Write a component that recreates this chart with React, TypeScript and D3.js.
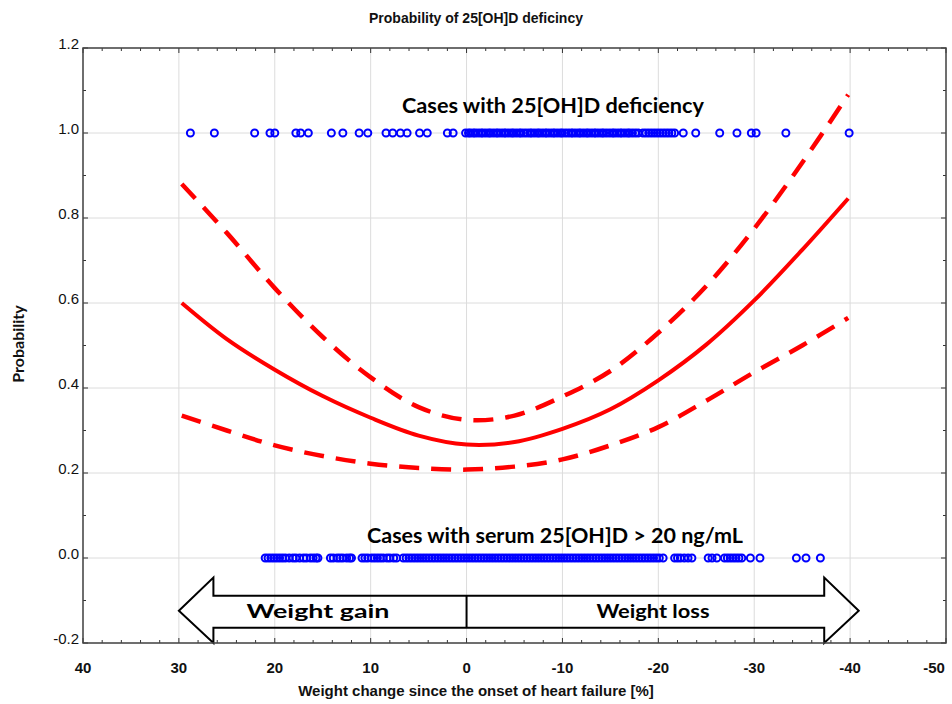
import * as d3 from 'd3';

// curve x positions (weight change, %)
const curveX = [29.7, 25, 20, 15, 10, 5, 0, -5, -10, -15, -20, -25, -30, -35, -39.8];
const probFit = [0.6, 0.515, 0.443, 0.381, 0.33, 0.288, 0.267, 0.273, 0.304, 0.35, 0.418, 0.502, 0.606, 0.725, 0.846];
const probUpper = [0.88, 0.765, 0.635, 0.52, 0.425, 0.355, 0.325, 0.335, 0.38, 0.44, 0.53, 0.64, 0.775, 0.93, 1.09];
const probLower = [0.335, 0.3, 0.265, 0.24, 0.222, 0.212, 0.208, 0.215, 0.232, 0.265, 0.308, 0.37, 0.437, 0.5, 0.565];

// observed cases with deficiency (y = 1)
const deficientCases = [
  28.8, 26.3, 22.1, 20.5, 20.0, 17.8, 17.3, 16.5, 14.1, 12.9, 11.2, 10.3, 8.4, 7.7, 6.9, 6.2,
  4.9, 4.1, 2.0, 1.4,
  0.1, -0.2, -0.4, -0.7, -0.9, -1.2, -1.5, -1.7, -2.0, -2.3, -2.5, -2.8, -3.1, -3.3, -3.6, -3.9,
  -4.1, -4.4, -4.7, -4.9, -5.2, -5.5, -5.7, -6.0, -6.3, -6.6, -6.8, -7.1, -7.4, -7.6, -7.9, -8.2,
  -8.4, -8.7, -9.0, -9.2, -9.5, -9.8, -10.0, -10.3, -10.6, -10.9, -11.1, -11.4, -11.7, -11.9,
  -12.2, -12.5, -12.7, -13.0, -13.3, -13.5, -13.8, -14.1, -14.3, -14.6, -14.9, -15.2, -15.4,
  -15.7, -16.0, -16.2, -16.5, -16.8, -17.0, -17.3, -17.6, -17.9,
  -18.4, -18.7, -19.0, -19.3, -19.6, -19.9, -20.2, -20.5, -20.8, -21.1, -21.4, -21.7,
  -22.6, -23.9, -26.4, -28.2, -29.7, -30.2, -33.3, -39.9,
];

// observed cases with serum 25[OH]D > 20 ng/mL (y = 0)
const normalCases = [
  21.0, 20.7, 20.4, 20.1, 19.8, 19.5, 19.2, 18.9, 18.5, 18.1, 17.8, 17.4, 17.0, 16.7, 16.3, 16.0,
  15.7, 15.5,
  14.2, 13.9, 13.5, 13.2, 12.9, 12.5, 12.2, 12.0,
  10.9, 10.6, 10.3, 9.9, 9.6, 9.3, 9.0, 8.7, 8.3, 8.0, 7.6, 7.3,
  6.6, 6.3, 6.0, 5.7, 5.4, 5.1, 4.8, 4.5, 4.2, 3.9, 3.6, 3.3, 3.0, 2.7, 2.4, 2.1, 1.8, 1.5, 1.2,
  0.9, 0.6, 0.3, 0.0, -0.3, -0.6, -0.9, -1.2, -1.5, -1.8, -2.1, -2.4, -2.7, -3.0, -3.3, -3.6,
  -3.9, -4.2, -4.5, -4.8, -5.1, -5.4, -5.7, -6.0, -6.3, -6.6, -6.9, -7.2, -7.5, -7.8, -8.1,
  -8.4, -8.7, -9.0, -9.3, -9.6, -9.9, -10.2, -10.5, -10.8, -11.1, -11.4, -11.7, -12.0, -12.3,
  -12.6, -12.9, -13.2, -13.5, -13.8, -14.1, -14.4, -14.7, -15.0, -15.3, -15.6, -15.9, -16.2,
  -16.5, -16.8, -17.1, -17.4, -17.7, -18.0, -18.3, -18.6, -18.9, -19.2, -19.5, -19.8, -20.1,
  -20.5,
  -21.7, -22.0, -22.3, -22.7, -23.1, -23.5,
  -25.2, -25.6, -26.1,
  -26.9, -27.2, -27.5, -27.8, -28.1, -28.4, -28.7, -29.6, -30.6,
  -34.4, -35.4, -36.9,
];

const xTicks = [40, 30, 20, 10, 0, -10, -20, -30, -40, -50];
const yTicks = [-0.2, 0, 0.2, 0.4, 0.6, 0.8, 1.0, 1.2];

const narrow = "'Liberation Sans Narrow', 'Arial Narrow', 'Liberation Sans', sans-serif";
const calibriLike = "Lato, 'Open Sans', sans-serif";

export default function App() {
  const width = 952;
  const height = 704;
  const left = 83, right = 946, top = 48, bottom = 643;

  const x = d3.scaleLinear().domain([40, -50]).range([left, right]);
  const y = d3.scaleLinear().domain([-0.2, 1.2]).range([bottom, top]);

  const minorX = d3.range(40, -50.1, -2).filter(v => v % 10 !== 0);
  const minorY = d3.range(-0.1, 1.2, 0.2);

  const line = d3.line<[number, number]>()
    .x(d => x(d[0]))
    .y(d => y(d[1]))
    .curve(d3.curveCatmullRom);

  const fitPts = curveX.map((v, i) => [v, probFit[i]] as [number, number]);
  const upPts = curveX.map((v, i) => [v, probUpper[i]] as [number, number]);
  const loPts = curveX.map((v, i) => [v, probLower[i]] as [number, number]);

  // double arrow (data units)
  const tipL = 30.0, backL = 26.4, backR = -37.3, tipR = -40.9;
  const headTop = -0.046, shaftTop = -0.089, mid = -0.124, shaftBot = -0.164, headBot = -0.2;
  const arrow: [number, number][] = [
    [tipL, mid], [backL, headTop], [backL, shaftTop], [backR, shaftTop], [backR, headTop],
    [tipR, mid], [backR, headBot], [backR, shaftBot], [backL, shaftBot], [backL, headBot],
  ];
  const arrowPath = 'M' + arrow.map(p => `${x(p[0])},${y(p[1])}`).join('L') + 'Z';

  return (
    <svg width={width} height={height} style={{ position: 'absolute', left: 0, top: 0, background: '#fff' }}>
      <rect width={width} height={height} fill="#fff" />
      <text x={476} y={23} textAnchor="middle" fontFamily={narrow} fontWeight="bold" fontSize={14} fill="#111">
        Probability of 25[OH]D deficincy
      </text>

      {/* grid */}
      {xTicks.map(t => (
        <line key={'gx' + t} x1={x(t)} x2={x(t)} y1={top} y2={bottom} stroke="#dcdcdc" strokeWidth={1} />
      ))}
      {yTicks.map(t => (
        <line key={'gy' + t} x1={left} x2={right} y1={y(t)} y2={y(t)} stroke="#dcdcdc" strokeWidth={1} />
      ))}

      {/* ticks, inward on all four sides */}
      {xTicks.map(t => (
        <g key={'tx' + t} stroke="#333" strokeWidth={1}>
          <line x1={x(t)} x2={x(t)} y1={top} y2={top + 5} />
          <line x1={x(t)} x2={x(t)} y1={bottom} y2={bottom - 5} />
        </g>
      ))}
      {minorX.map(t => (
        <g key={'mx' + t} stroke="#333" strokeWidth={1}>
          <line x1={x(t)} x2={x(t)} y1={top} y2={top + 3} />
          <line x1={x(t)} x2={x(t)} y1={bottom} y2={bottom - 3} />
        </g>
      ))}
      {yTicks.map(t => (
        <g key={'ty' + t} stroke="#333" strokeWidth={1}>
          <line x1={left} x2={left + 5} y1={y(t)} y2={y(t)} />
          <line x1={right} x2={right - 5} y1={y(t)} y2={y(t)} />
        </g>
      ))}
      {minorY.map(t => (
        <g key={'my' + t} stroke="#333" strokeWidth={1}>
          <line x1={left} x2={left + 3} y1={y(t)} y2={y(t)} />
          <line x1={right} x2={right - 3} y1={y(t)} y2={y(t)} />
        </g>
      ))}

      {/* arrow annotation */}
      <path d={arrowPath} fill="none" stroke="#000" strokeWidth={2} strokeLinejoin="miter" />
      <line x1={x(0)} x2={x(0)} y1={y(shaftTop)} y2={y(shaftBot)} stroke="#000" strokeWidth={2} />
      <text x={318} y={618} textAnchor="middle" fontFamily={calibriLike} fontWeight="bold" fontSize={19}
        textLength={143} lengthAdjust="spacingAndGlyphs">Weight gain</text>
      <text x={653} y={618} textAnchor="middle" fontFamily={calibriLike} fontWeight="bold" fontSize={19}
        textLength={113} lengthAdjust="spacingAndGlyphs">Weight loss</text>

      {/* frame */}
      <rect x={left} y={top} width={right - left} height={bottom - top} fill="none" stroke="#444" strokeWidth={1.5} />

      {/* observations */}
      {deficientCases.map((v, i) => (
        <circle key={'d' + i} cx={x(v)} cy={y(1)} r={3.5} fill="none" stroke="#0000ff" strokeWidth={2} />
      ))}
      {normalCases.map((v, i) => (
        <circle key={'n' + i} cx={x(v)} cy={y(0)} r={3.5} fill="none" stroke="#0000ff" strokeWidth={2} />
      ))}

      {/* fitted curve and confidence band */}
      <path d={line(upPts) ?? ''} fill="none" stroke="#ff0000" strokeWidth={4.5} strokeDasharray="20 12" />
      <path d={line(loPts) ?? ''} fill="none" stroke="#ff0000" strokeWidth={4.5} strokeDasharray="20 12" />
      <path d={line(fitPts) ?? ''} fill="none" stroke="#ff0000" strokeWidth={4} />

      <text x={553} y={113} textAnchor="middle" fontFamily={calibriLike} fontWeight="bold" fontSize={21}
        textLength={302} lengthAdjust="spacingAndGlyphs">Cases with 25[OH]D deficiency</text>
      <text x={555} y={543} textAnchor="middle" fontFamily={calibriLike} fontWeight="bold" fontSize={21}
        textLength={376} lengthAdjust="spacingAndGlyphs">Cases with serum 25[OH]D &gt; 20 ng/mL</text>

      {/* axis labels */}
      {yTicks.map(t => (
        <text key={'ly' + t} x={left - 4} y={y(t) + 1} textAnchor="end" fontFamily="'Liberation Sans', Arial, sans-serif"
          fontSize={15} fill="#111">{t.toFixed(1)}</text>
      ))}
      {xTicks.map(t => (
        <text key={'lx' + t} x={Math.min(x(t), 934)} y={673} textAnchor="middle" fontFamily={narrow} fontWeight="bold"
          fontSize={15} fill="#111">{String(t)}</text>
      ))}
      <text x={476} y={696} textAnchor="middle" fontFamily={narrow} fontWeight="bold" fontSize={15} fill="#111">
        Weight change since the onset of heart failure [%]
      </text>
      <text transform="translate(24,344) rotate(-90)" textAnchor="middle" fontFamily={calibriLike}
        fontWeight="bold" fontSize={16} fill="#111">Probability</text>
    </svg>
  );
}
